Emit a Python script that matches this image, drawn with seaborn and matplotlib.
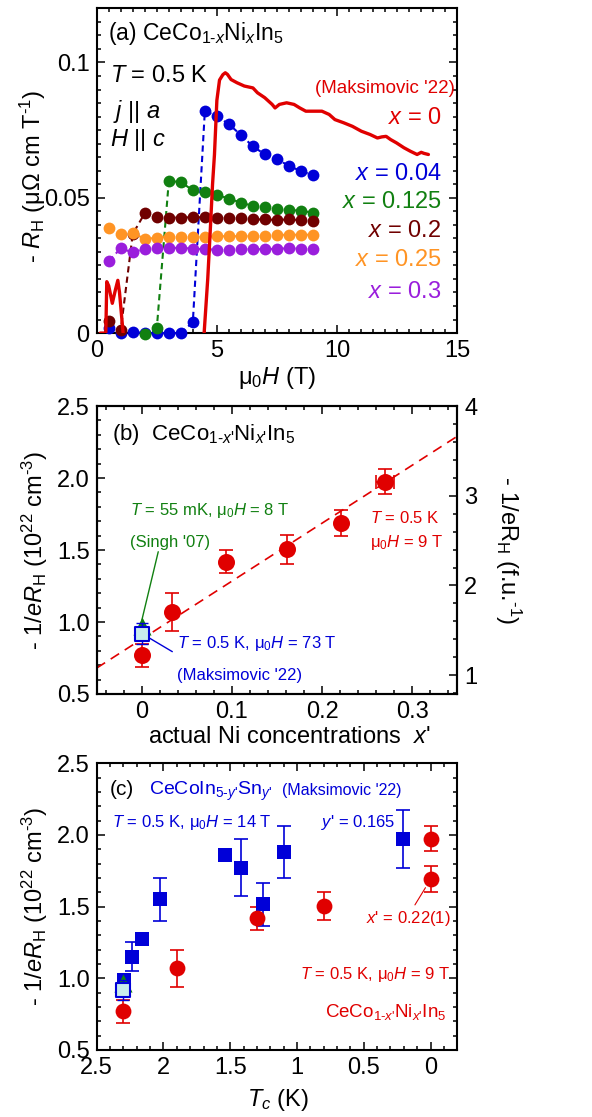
import numpy as np
import pandas as pd
import matplotlib
matplotlib.use('Agg')
import matplotlib.pyplot as plt
from matplotlib.ticker import MultipleLocator
import seaborn as sns

sns.set_theme(style='ticks', rc={
	'axes.edgecolor': 'black', 'text.color': 'black', 'axes.labelcolor': 'black',
	'xtick.color': 'black', 'ytick.color': 'black',
})
plt.rcParams['font.family'] = ['Liberation Sans', 'DejaVu Sans']
plt.rcParams['mathtext.fontset'] = 'custom'
plt.rcParams['mathtext.rm'] = 'Liberation Sans'
plt.rcParams['mathtext.it'] = 'Liberation Sans:italic'
plt.rcParams['mathtext.bf'] = 'Liberation Sans:bold'

RED = '#e00000'
BLUE = '#0000d8'
GREEN = '#118011'
MAROON = '#700000'
ORANGE = '#ff9424'
PURPLE = '#9a1edc'
CYAN = '#c8ecec'

# ---- panel (a): Hall coefficient vs field ----
field = [0.5, 1.0, 1.5, 2.0, 2.5, 3.0, 3.5, 4.0, 4.5, 5.0, 5.5, 6.0, 6.5, 7.0, 7.5, 8.0, 8.5, 9.0]
rh_x004 = [0.0020, 0.0, 0.0004, 0.0, 0.0, 0.0, 0.0, 0.0040, 0.0821, 0.0801, 0.0772, 0.0732, 0.0690,
	0.0660, 0.0644, 0.0617, 0.0599, 0.0583]
field_x0125 = [2.0, 2.5, 3.0, 3.5, 4.0, 4.5, 5.0, 5.5, 6.0, 6.5, 7.0, 7.5, 8.0, 8.5, 9.0]
rh_x0125 = [-0.0005, 0.0017, 0.0561, 0.0559, 0.0527, 0.0520, 0.0511, 0.0497, 0.0482, 0.0470,
	0.0467, 0.0460, 0.0454, 0.0453, 0.0444]
rh_x02 = [0.0043, 0.0011, 0.0366, 0.0443, 0.0430, 0.0427, 0.0427, 0.0428, 0.0428, 0.0426, 0.0426,
	0.0425, 0.0420, 0.0420, 0.0418, 0.0420, 0.0417, 0.0413]
rh_x025 = [0.0390, 0.0368, 0.0370, 0.0348, 0.0352, 0.0356, 0.0356, 0.0356, 0.0356, 0.0358, 0.0358,
	0.0358, 0.0360, 0.0360, 0.0362, 0.0364, 0.0363, 0.0364]
rh_x03 = [0.0266, 0.0313, 0.0298, 0.0312, 0.0315, 0.0315, 0.0315, 0.0312, 0.0310, 0.0308, 0.0308,
	0.0310, 0.0310, 0.0310, 0.0312, 0.0313, 0.0312, 0.0312]

# x = 0, Maksimovic '22 (continuous trace): low-field noise and normal-state part
red_field_low = [0.15, 0.33, 0.38, 0.42, 0.50, 0.65, 0.78, 0.88, 0.95, 1.10]
red_rh_low = [0.0, 0.0, 0.0, 0.0190, 0.0175, 0.0110, 0.0160, 0.0195, 0.0150, 0.0]
red_field = [4.47, 4.62, 4.72, 4.82, 4.90, 5.00, 5.11, 5.25, 5.35, 5.44, 5.59, 5.84, 6.14, 6.50,
	6.69, 6.99, 7.30, 7.42, 7.60, 7.90, 8.21, 8.45, 8.70, 9.06, 9.37, 9.67, 9.91, 10.28, 10.64,
	11.01, 11.37, 11.68, 11.86, 12.04, 12.23, 12.47, 12.78, 13.05, 13.33, 13.50, 13.62, 13.80]
red_rh = [0.0, 0.0200, 0.0370, 0.0550, 0.0660, 0.0860, 0.0935, 0.0955, 0.0962, 0.0956, 0.0937,
	0.0925, 0.0913, 0.0906, 0.0888, 0.0870, 0.0845, 0.0832, 0.0845, 0.0851, 0.0845, 0.0832, 0.0820,
	0.0820, 0.0820, 0.0808, 0.0789, 0.0777, 0.0764, 0.0746, 0.0734, 0.0721, 0.0725, 0.0727, 0.0715,
	0.0703, 0.0685, 0.0672, 0.0660, 0.0668, 0.0664, 0.0660]

# ---- panel (b)/(c): carrier density ----
ni_xp = [0.0, 0.034, 0.093, 0.161, 0.221, 0.270]
ni_xp_err = [0.0, 0.0, 0.0, 0.0, 0.0, 0.010]
ni_n = [0.77, 1.07, 1.42, 1.505, 1.69, 1.975]
ni_n_err = [0.08, 0.13, 0.08, 0.10, 0.09, 0.085]
ni_tc = [2.3, 1.9, 1.3, 0.8, 0.0, 0.0]

singh_xp = [0.0]
singh_tc = [2.3]
singh_n = [0.97]

maks_xp = [0.0]
maks_tc = [2.3]
maks_n = [0.92]
maks_err = [0.07]

fit_xp = [-0.05, 0.35]
fit_n = [0.68, 2.29]

sn_tc = [2.295, 2.233, 2.158, 2.025, 1.538, 1.420, 1.255, 1.098, 0.205]
sn_n = [0.99, 1.151, 1.274, 1.553, 1.860, 1.772, 1.516, 1.879, 1.972]
sn_err = [0.0, 0.10, 0.0, 0.15, 0.0, 0.20, 0.15, 0.18, 0.20]

a_yticks = [0.0, 0.05, 0.1]
a_yticklabels = ['0', '0.05', '0.1']
n_ticks = [0.5, 1.0, 1.5, 2.0, 2.5]
n_ticklabels = ['0.5', '1.0', '1.5', '2.0', '2.5']
fu_ticks = [1, 2, 3, 4]
tc_ticks = [2.5, 2.0, 1.5, 1.0, 0.5, 0.0]
tc_ticklabels = ['2.5', '2', '1.5', '1', '0.5', '0']


def style_axes(ax, right=True):
	for sp in ax.spines.values():
		sp.set_linewidth(1.5)
		sp.set_color('black')
	ax.tick_params(which='both', direction='in', top=True, bottom=True, left=True, right=right,
		width=1.1, labelsize=17, pad=5)
	ax.tick_params(which='major', length=6)
	ax.tick_params(which='minor', length=3)


fig = plt.figure(figsize=(5.92, 11.17), dpi=100)
ax_a = fig.add_axes([0.1633, 0.7018, 0.6091, 0.2912])
ax_b = fig.add_axes([0.1633, 0.3787, 0.6091, 0.2578])
ax_c = fig.add_axes([0.1633, 0.0600, 0.6091, 0.2567])

# ---------------- (a) ----------------
dot_series = [
	(field, rh_x004, BLUE),
	(field_x0125, rh_x0125, GREEN),
	(field, rh_x02, MAROON),
	(field, rh_x025, ORANGE),
	(field, rh_x03, PURPLE),
]
for fx, fy, col in dot_series:
	df = pd.DataFrame({'field': fx, 'RH': fy})
	sns.lineplot(data=df, x='field', y='RH', ax=ax_a, color=col, sort=False, estimator=None,
		linestyle=(0, (3, 2)), lw=1.5, marker='o', markersize=8.5, markeredgecolor=col,
		markeredgewidth=0, clip_on=False, zorder=3)

for fx, fy in [(red_field_low, red_rh_low), (red_field, red_rh)]:
	df_red = pd.DataFrame({'field': fx, 'RH': fy})
	sns.lineplot(data=df_red, x='field', y='RH', ax=ax_a, color=RED, sort=False, estimator=None,
		lw=2.4, zorder=4)

ax_a.set_xlim(0, 15)
ax_a.set_ylim(0, 0.1202)
ax_a.set_yticks(a_yticks)
ax_a.set_yticklabels(a_yticklabels)
ax_a.xaxis.set_major_locator(MultipleLocator(5))
ax_a.xaxis.set_minor_locator(MultipleLocator(0.5))
ax_a.yaxis.set_minor_locator(MultipleLocator(0.005))
style_axes(ax_a)
ax_a.set_xlabel('μ$_0$$H$ (T)', fontsize=17)
ax_a.set_ylabel(r'- $R_\mathrm{H}$ (μΩ cm T$^{\text{-1}}$)', fontsize=17)
ax_a.xaxis.set_label_coords(0.5, -0.137)
ax_a.yaxis.set_label_coords(-0.177, 0.48)
ax_a.xaxis.label.set_va('center')
ax_a.yaxis.label.set_va('center')

ax_a.text(0.032, 0.9016, r'(a) CeCo$_{\text{1-}x}$Ni$_x$In$_5$', transform=ax_a.transAxes,
	fontsize=16.5, va='baseline')
ax_a.text(0.037, 0.773, r'$T$ = 0.5 K', transform=ax_a.transAxes, fontsize=17, va='baseline')
ax_a.text(0.045, 0.661, r'$j$ || $a$', transform=ax_a.transAxes, fontsize=17, va='baseline')
ax_a.text(0.037, 0.574, r'$H$ || $c$', transform=ax_a.transAxes, fontsize=17, va='baseline')

ax_a.text(0.9935, 0.738, "(Maksimovic '22)", transform=ax_a.transAxes, fontsize=13.5,
	color=RED, ha='right', va='baseline')
for lab, col, yy in [('0', RED, 0.643), ('0.04', BLUE, 0.471), ('0.125', GREEN, 0.384),
		('0.2', MAROON, 0.295), ('0.25', ORANGE, 0.205), ('0.3', PURPLE, 0.1076)]:
	ax_a.text(0.957, yy, r'$x$ = ' + lab, transform=ax_a.transAxes, fontsize=17, color=col,
		ha='right', va='baseline')

# ---------------- (b) ----------------
sns.lineplot(x=fit_xp, y=fit_n, ax=ax_b, color=RED, lw=1.2, linestyle=(0, (6, 4)), zorder=2)
ax_b.errorbar(ni_xp, ni_n, yerr=ni_n_err, xerr=ni_xp_err, fmt='none', ecolor=RED,
	elinewidth=1.2, capsize=5, capthick=1.2, zorder=3)
sns.scatterplot(x=ni_xp, y=ni_n, ax=ax_b, color=RED, s=150, marker='o', linewidth=0, zorder=4,
	clip_on=False)
sns.scatterplot(x=singh_xp, y=singh_n, ax=ax_b, color=GREEN, s=170, marker='^', linewidth=0,
	zorder=5)
ax_b.errorbar(maks_xp, maks_n, yerr=maks_err, fmt='none', ecolor=BLUE, elinewidth=1.0,
	capsize=4, capthick=1.0, zorder=5)
sns.scatterplot(x=maks_xp, y=maks_n, ax=ax_b, color=CYAN, s=95, marker='s', edgecolor=BLUE,
	linewidth=1.5, zorder=6)

ax_b.set_xlim(-0.05, 0.35)
ax_b.set_ylim(0.5, 2.5)
ax_b.set_xticks([0.0, 0.1, 0.2, 0.3])
ax_b.set_xticklabels(['0', '0.1', '0.2', '0.3'])
ax_b.set_yticks(n_ticks)
ax_b.set_yticklabels(n_ticklabels)
ax_b.xaxis.set_minor_locator(MultipleLocator(0.02))
ax_b.yaxis.set_minor_locator(MultipleLocator(0.1))
style_axes(ax_b, right=False)
ax_b.set_xlabel("actual Ni concentrations  $x$'", fontsize=17)
ax_b.set_ylabel(r'- 1/$e$$R_\mathrm{H}$ (10$^{22}$ cm$^{\text{-3}}$)', fontsize=17)
ax_b.xaxis.set_label_coords(0.534, -0.149)
ax_b.yaxis.set_label_coords(-0.171, 0.5)
ax_b.xaxis.label.set_va('center')
ax_b.yaxis.label.set_va('center')

ax_b2 = ax_b.twinx()
ax_b2.set_ylim(0.79, 4.0)
ax_b2.set_yticks(fu_ticks)
ax_b2.set_yticklabels([str(t) for t in fu_ticks])
ax_b2.yaxis.set_minor_locator(MultipleLocator(0.2))
style_axes(ax_b2)
ax_b2.tick_params(which='both', left=False, top=False, bottom=False)
ax_b2.set_ylabel(r'- 1/eR$_\mathrm{H}$ (f.u.$^{\text{-1}}$)', fontsize=17, rotation=-90)
ax_b2.yaxis.set_label_coords(1.14, 0.5)
ax_b2.yaxis.label.set_va('center')
ax_b2.yaxis.label.set_ha('center')

ax_b.text(0.0416, 0.882, r"(b)  CeCo$_{\text{1-}x\text{'}}$Ni$_{x\text{'}}$In$_5$",
	transform=ax_b.transAxes, fontsize=16, va='baseline')
ax_b.text(0.0923, 0.6215, r'$T$ = 55 mK, μ$_0$$H$ = 8 T', transform=ax_b.transAxes, fontsize=12,
	color=GREEN, va='baseline')
ax_b.text(0.0928, 0.509, "(Singh '07)", transform=ax_b.transAxes, fontsize=12, color=GREEN,
	va='baseline')
ax_b.annotate('', xy=(singh_xp[0], singh_n[0] + 0.04), xytext=(0.0183, 1.488),
	arrowprops=dict(arrowstyle='-', color=GREEN, lw=1.0, shrinkA=0, shrinkB=0))
ax_b.text(0.2218, 0.1586, r'$T$ = 0.5 K, μ$_0$$H$ = 73 T', transform=ax_b.transAxes, fontsize=12,
	color=BLUE, va='baseline')
ax_b.text(0.2218, 0.0486, "(Maksimovic '22)", transform=ax_b.transAxes, fontsize=12, color=BLUE,
	va='baseline')
ax_b.annotate('', xy=(maks_xp[0], maks_n[0]), xytext=(0.0339, 0.794),
	arrowprops=dict(arrowstyle='-', color=BLUE, lw=1.0, shrinkA=0, shrinkB=4))
ax_b.text(0.758, 0.593, r'$T$ = 0.5 K', transform=ax_b.transAxes, fontsize=12, color=RED,
	va='baseline')
ax_b.text(0.758, 0.5116, r'μ$_0$$H$ = 9 T', transform=ax_b.transAxes, fontsize=12, color=RED,
	va='baseline')

# ---------------- (c) ----------------
ax_c.errorbar(sn_tc, sn_n, yerr=sn_err, fmt='none', ecolor=BLUE, elinewidth=1.2, capsize=5,
	capthick=1.2, zorder=3)
sns.scatterplot(x=sn_tc, y=sn_n, ax=ax_c, color=BLUE, s=95, marker='s', linewidth=0, zorder=4)
ax_c.errorbar(ni_tc, ni_n, yerr=ni_n_err, fmt='none', ecolor=RED, elinewidth=1.2, capsize=5,
	capthick=1.2, zorder=3)
sns.scatterplot(x=ni_tc, y=ni_n, ax=ax_c, color=RED, s=130, marker='o', linewidth=0, zorder=4)
sns.scatterplot(x=singh_tc, y=singh_n, ax=ax_c, color=GREEN, s=170, marker='^', linewidth=0,
	zorder=5)
ax_c.errorbar(maks_tc, maks_n, yerr=maks_err, fmt='none', ecolor=BLUE, elinewidth=1.0,
	capsize=4, capthick=1.0, zorder=5)
sns.scatterplot(x=maks_tc, y=maks_n, ax=ax_c, color=CYAN, s=95, marker='s', edgecolor=BLUE,
	linewidth=1.5, zorder=6)

ax_c.set_xlim(2.5, -0.2)
ax_c.set_ylim(0.5, 2.5)
ax_c.set_xticks(tc_ticks)
ax_c.set_xticklabels(tc_ticklabels)
ax_c.set_yticks(n_ticks)
ax_c.set_yticklabels(n_ticklabels)
ax_c.xaxis.set_minor_locator(MultipleLocator(0.1))
ax_c.yaxis.set_minor_locator(MultipleLocator(0.1))
style_axes(ax_c)
ax_c.set_xlabel(r'$T_c$ (K)', fontsize=17)
ax_c.set_ylabel(r'- 1/$e$$R_\mathrm{H}$ (10$^{22}$ cm$^{\text{-3}}$)', fontsize=17)
ax_c.xaxis.set_label_coords(0.503, -0.174)
ax_c.yaxis.set_label_coords(-0.171, 0.5)
ax_c.xaxis.label.set_va('center')
ax_c.yaxis.label.set_va('center')

ax_c.text(0.037, 0.8894, '(c)', transform=ax_c.transAxes, fontsize=15, va='baseline')
ax_c.text(0.146, 0.8894, r"CeCoIn$_{\text{5-}y\text{'}}$Sn$_{y\text{'}}$", transform=ax_c.transAxes,
	fontsize=14, color=BLUE, va='baseline')
ax_c.text(0.513, 0.8894, "(Maksimovic '22)", transform=ax_c.transAxes, fontsize=11.5, color=BLUE,
	va='baseline')
ax_c.text(0.042, 0.779, r'$T$ = 0.5 K, μ$_0$$H$ = 14 T', transform=ax_c.transAxes, fontsize=12,
	color=BLUE, va='baseline')
ax_c.text(0.827, 0.779, r"$y$' = 0.165", transform=ax_c.transAxes, fontsize=12, color=BLUE,
	ha='right', va='baseline')
ax_c.text(0.9817, 0.442, r"$x$' = 0.22(1)", transform=ax_c.transAxes, fontsize=12, color=RED,
	ha='right', va='baseline')
ax_c.annotate('', xy=(ni_tc[4], ni_n[4]), xytext=(0.117, 1.512),
	arrowprops=dict(arrowstyle='-', color=RED, lw=0.8, shrinkA=0, shrinkB=7))
ax_c.text(0.98, 0.2465, r'$T$ = 0.5 K, μ$_0$$H$ = 9 T', transform=ax_c.transAxes, fontsize=12,
	color=RED, ha='right', va='baseline')
ax_c.text(0.969, 0.116, r"CeCo$_{\text{1-}x\text{'}}$Ni$_{x\text{'}}$In$_5$",
	transform=ax_c.transAxes, fontsize=13.5, color=RED, ha='right', va='baseline')

fig.savefig('out.png', dpi=100)
